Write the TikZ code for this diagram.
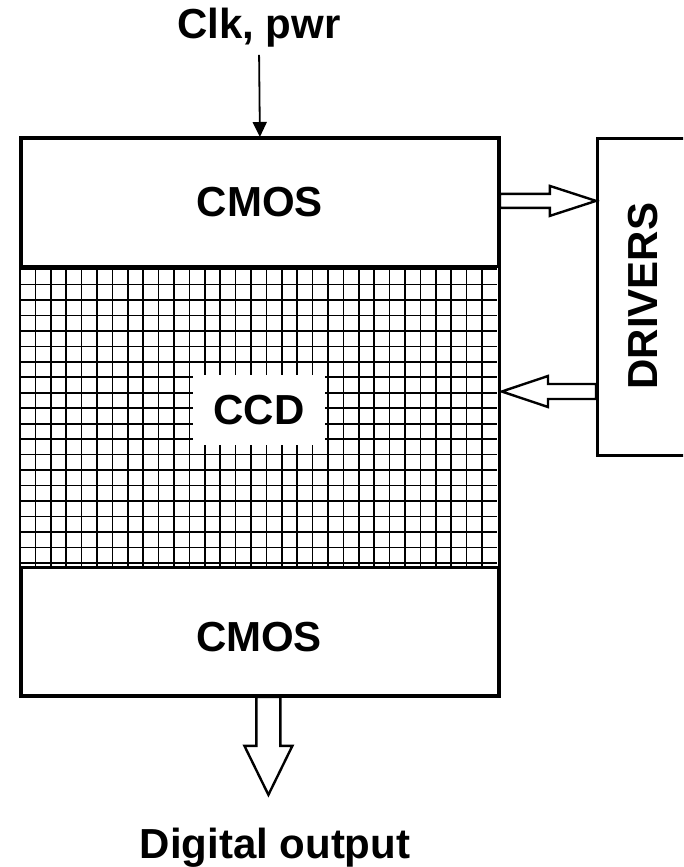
\documentclass[tikz,border=0pt]{standalone}
\usepackage{fontspec}
\setmainfont{Liberation Sans}
\usetikzlibrary{arrows.meta,positioning,calc}
\tikzset{
  chipbox/.style={draw=black,line width=2.8pt,minimum width=477pt,inner sep=0pt,anchor=north west},
  lbl/.style={font=\fontsize{42}{48}\selectfont\bfseries,inner sep=0pt},
  hollow/.style={draw=black,line width=2.4pt,fill=white,line join=miter},
  gridline/.style={draw=black,line width=1.7pt},
  feed/.style={-{Triangle[length=15pt,width=14pt]},line width=1.8pt}
}
\begin{document}
\begin{tikzpicture}[x=1pt,y=-1pt]
        \clip (0,0) rectangle (683,867);
        \node[chipbox,minimum height=128pt] (cmostop) at (20,137) {};
        \node[chipbox,minimum height=128pt] (cmosbot) at (20,566) {};
        % pixel grid of the CCD
        \foreach \i in {1,...,30}
          \draw[gridline] (20+15.4*\i,265) -- (20+15.4*\i,566);
        \foreach \j in {0,...,19}
          \draw[gridline] (20,269+15.47*\j) -- (497,269+15.47*\j);
        \draw[line width=2.8pt] (cmostop.north west) rectangle (cmosbot.south east);
        \node[lbl] (cmosa) at (cmostop.center) {CMOS};
        \node[lbl] (cmosb) at (259,637) {CMOS};
        \node[lbl,fill=white,minimum width=132pt,minimum height=70pt] (ccd) at (259,410) {CCD};
        \node[draw=black,line width=2.8pt,minimum width=120pt,minimum height=317pt,anchor=north west] (drivers) at (596,137) {};
        \node[lbl,rotate=90] (drvlbl) at (643,296) {DRIVERS};
        \node[lbl,anchor=base] (clk) at (259,38) {Clk, pwr};
        \node[lbl,anchor=base] (dout) at (275,858) {Digital output};
        \draw[feed,shorten <=8pt] (clk.south) -- (cmostop.north);
        % block arrows
        \coordinate (outA) at ($(cmostop.east)+(0,-1.5)$);
        \draw[hollow] ($(outA)+(0,-7)$) -- ++(50,0) -- ++(0,-8) -- (drivers.west |- outA)
          -- ($(outA)+(50,15)$) -- ++(0,-8) -- ($(outA)+(0,7)$) -- cycle;
        \coordinate (inA) at (drivers.west |- 0,391.5);
        \draw[hollow] ($(inA)+(0,-7.5)$) -- ++(-48,0) -- ++(0,-8) -- ($(cmostop.east |- inA)+(2,0)$)
          -- ($(inA)+(-48,15.5)$) -- ++(0,-8) -- ($(inA)+(0,7.5)$) -- cycle;
        \coordinate (outD) at ($(cmosbot.south)+(8.5,0)$);
        \draw[hollow] ($(outD)+(-12,0)$) -- ++(0,49) -- ++(-12,0) -- ($(outD)+(0,98)$)
          -- ($(outD)+(24,49)$) -- ++(-12,0) -- ($(outD)+(12,0)$) -- cycle;
\end{tikzpicture}
\end{document}
